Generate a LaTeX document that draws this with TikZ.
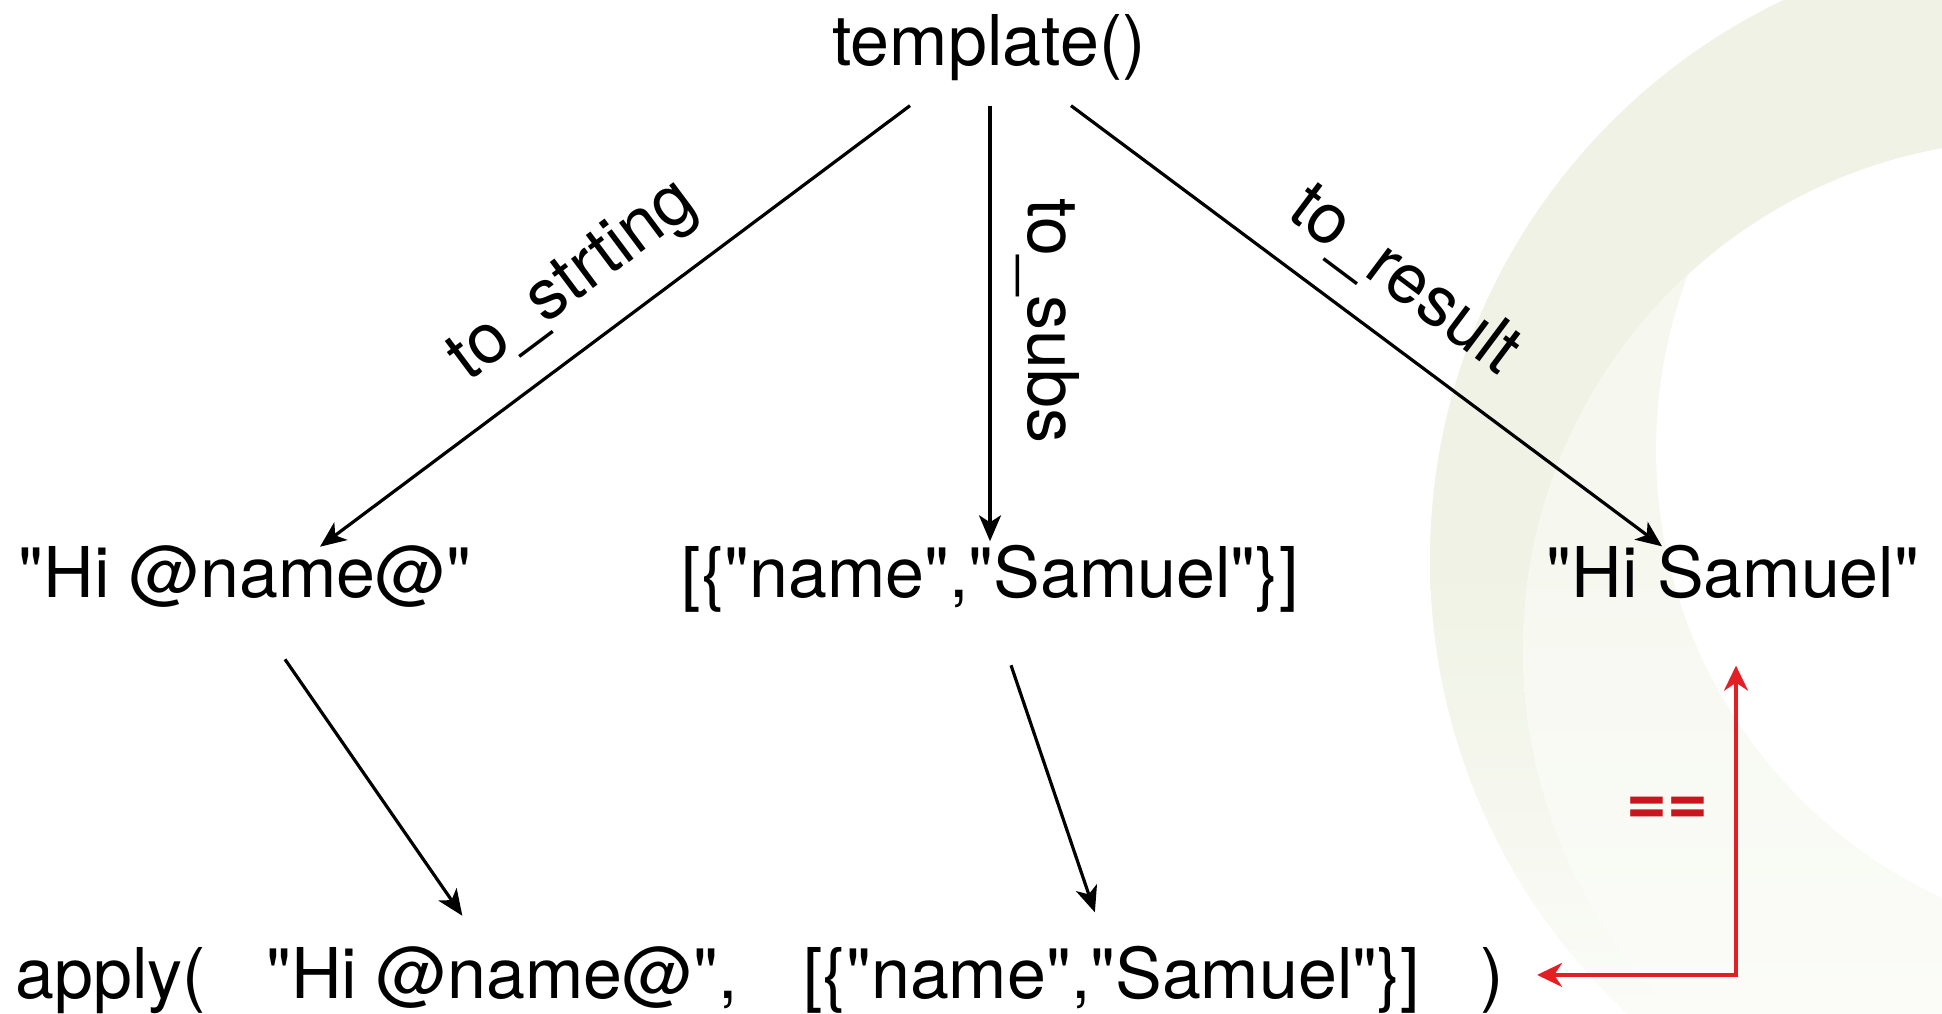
\documentclass[tikz,border=0pt]{standalone}
\usepackage{fontspec}
\setmainfont{TeX Gyre Heros}[Ligatures=TeXOff]
\usetikzlibrary{arrows.meta,calc}
\definecolor{bggreen}{RGB}{239,242,228}
\definecolor{bgpale}{RGB}{246,248,240}
\definecolor{bgfaint}{RGB}{251,252,248}
\definecolor{arrred}{RGB}{227,30,36}
\definecolor{eqred}{RGB}{200,22,30}
\begin{document}
\begin{tikzpicture}[x=0.5pt,y=-0.5pt,
  txt/.style={inner sep=0pt, font=\fontsize{35}{42}\selectfont, text=black},
  arr/.style={line width=1.6pt, -{Stealth[length=13pt,width=11pt,inset=3.5pt]}},
  redarr/.style={draw=arrred, line width=1.7pt,
    {Stealth[length=12.5pt,width=12pt,inset=4pt]}-{Stealth[length=12.5pt,width=12pt,inset=4pt]}},
  lbl/.style={inner sep=0pt, font=\fontsize{35}{42}\selectfont}]

% background and decorative crescents
\fill[white] (0,0) rectangle (1942,1013);
\path[use as bounding box] (0,0) rectangle (1942,1013);
\begin{scope}
  \clip (0,0) rectangle (1942,1013);
  \begin{scope}[even odd rule]
    \clip (2050,560) circle[radius=310pt] (2033,650) circle[radius=255pt];
    \fill[bggreen] (1300,-10) rectangle (1950,560);
    \shade[top color=bggreen, bottom color=bgfaint] (1300,560) rectangle (1950,1020);
  \end{scope}
  \begin{scope}
    \clip (2033,650) circle[radius=255pt];
    \begin{scope}[even odd rule]
      \clip (2033,650) circle[radius=255pt] (2150,450) circle[radius=247pt];
      \fill[bgpale] (1300,-10) rectangle (1950,560);
      \shade[top color=bgpale, bottom color=bgfaint] (1300,560) rectangle (1950,1020);
    \end{scope}
  \end{scope}
\end{scope}

% nodes
\node[txt, anchor=base] (tpl) at (989,65) {template()};
\node[txt, anchor=base] (hn) at (245,597) {"Hi @name@"};
\node[txt, anchor=base] (subs) at (990,597) {[\{"name","Samuel"\}]};
\node[txt, anchor=base] (hs) at (1733,597) {"Hi Samuel"};

\node[txt, anchor=base west] (ap1) at (15,998) {apply(};
\node[txt, anchor=base west] (ap2) at (266,998) {"Hi @name@",};
\node[txt, anchor=base west] (ap3) at (803,998) {[\{"name","Samuel"\}]};
\node[txt, anchor=base west] (ap4) at (1480,998) {)};

% connectors
\draw[arr] ($(tpl.south)+(-79,25)$) -- ($(hn.north)+(75,2)$);
\draw[arr] ($(tpl.south)+(1,25)$) -- ($(subs.north)+(0,-3)$);
\draw[arr] ($(tpl.south)+(82,25)$) -- ($(hs.north)+(-71,2)$);
\draw[arr] ($(hn.south)+(40,52)$) -- ($(ap2.north)+(-40,-30)$);
\draw[arr] ($(subs.south)+(21,53)$) -- ($(ap3.north)+(-17,-33)$);
\draw[redarr] ($(ap4.east)+(33,-5)$) -| ($(hs.south)+(3,67)$);

% labels
\node[lbl, rotate=36.8] (l1) at (574,282) {to\_strting};
\node[lbl, rotate=-90] (l2) at (1048,321) {to\_subs};
\node[lbl, rotate=-36.8] (l3) at (1404,281) {to\_result};
\node[lbl, text=eqred, font=\fontsize{35}{42}\selectfont\bfseries] (eq) at (1667,811) {==};
\end{tikzpicture}
\end{document}
